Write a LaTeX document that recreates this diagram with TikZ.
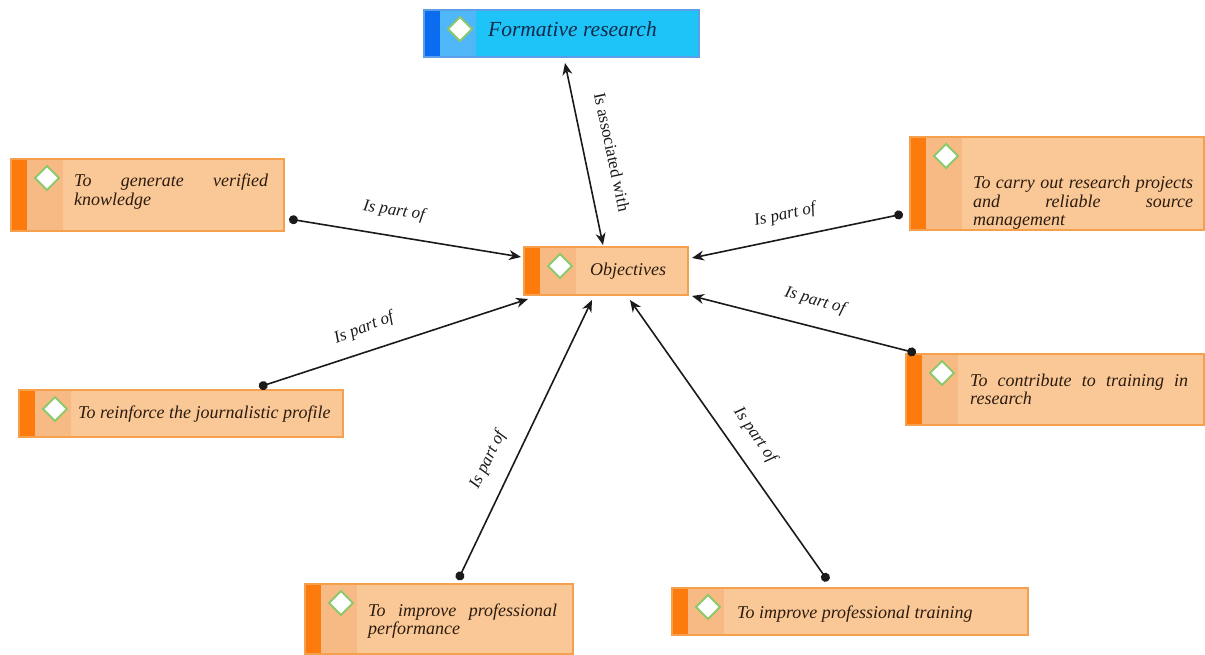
\documentclass[tikz,border=0pt]{standalone}
\usepackage{fontspec}
\setmainfont{Liberation Serif}
\usetikzlibrary{arrows.meta,calc}
\definecolor{oBorder}{HTML}{F5A04C}
\definecolor{oFill}{HTML}{FAC897}
\definecolor{oDark}{HTML}{FC7B0C}
\definecolor{oLight}{HTML}{F8BA84}
\definecolor{bBorder}{HTML}{5A9FE8}
\definecolor{bFill}{HTML}{1EC4F8}
\definecolor{bDark}{HTML}{0B6CF0}
\definecolor{bLight}{HTML}{4FB6F8}
\definecolor{dBorder}{HTML}{8DC86B}
\definecolor{tDark}{HTML}{2B1B0E}
\definecolor{tBlue}{HTML}{102A4A}
\definecolor{lineC}{HTML}{1A1A1A}
\tikzset{
  diam/.style={draw=dBorder, fill=white, line width=1.8pt, line join=miter},
  boxbase/.style n args={4}{draw=#1, fill=#2, line width=1.3pt, inner sep=0pt, outer sep=0pt, anchor=north west,
    path picture={
      \fill[#3] (path picture bounding box.north west) rectangle ([xshift=16pt]path picture bounding box.south west);
      \fill[#4] ([xshift=16pt]path picture bounding box.north west) rectangle ([xshift=52pt]path picture bounding box.south west);
      \draw[diam] ([xshift=36pt,yshift=-7pt]path picture bounding box.north west) -- ++(12pt,-12pt) -- ++(-12pt,-12pt) -- ++(-12pt,12pt) -- cycle;
    }},
  obox/.style={boxbase={oBorder}{oFill}{oDark}{oLight}},
  bbox/.style={boxbase={bBorder}{bFill}{bDark}{bLight}},
  btext/.style={anchor=base west, inner sep=0pt, font=\fontsize{18}{18.5}\selectfont\itshape, text=tDark},
  jtext/.style={btext, align=justify, text width=#1},
  lbl/.style={inner sep=0pt, font=\fontsize{17}{20}\selectfont\itshape, text=lineC},
  conn/.style={draw=lineC, line width=1.6pt, {Circle[length=9pt]}-{Stealth[length=12pt,width=10pt]}},
  dconn/.style={draw=lineC, line width=1.6pt, {Stealth[length=12pt,width=10pt]}-{Stealth[length=12pt,width=10pt]}}
}
\begin{document}
\begin{tikzpicture}[x=1pt,y=-1pt]
\useasboundingbox (0,0) rectangle (1205,655);
% boxes
\node[bbox, minimum width=275pt, minimum height=47pt] (form) at (424,10) {};
\node[btext, font=\fontsize{21.5}{24}\selectfont\itshape, text=tBlue] (formT) at (488,37) {Formative research};

\node[obox, minimum width=273pt, minimum height=72pt] (know) at (11,159) {};
\node[jtext=194pt] (knowT) at (74,187) {To generate verified\linebreak knowledge};

\node[obox, minimum width=164pt, minimum height=48pt] (obj) at (524,247) {};
\node[btext] (objT) at (590,276) {Objectives};

\node[obox, minimum width=294pt, minimum height=93pt] (carry) at (910,137) {};
\node[jtext=220pt] (carryT) at (973,189) {To carry out research projects\linebreak and reliable source\linebreak management};

\node[obox, minimum width=324pt, minimum height=47pt] (reinf) at (19,390) {};
\node[btext] (reinfT) at (78,418) {To reinforce the journalistic profile};

\node[obox, minimum width=298pt, minimum height=71pt] (contr) at (906,354) {};
\node[jtext=218pt] (contrT) at (970,386) {To contribute to training in\linebreak research};

\node[obox, minimum width=268pt, minimum height=70pt] (perf) at (305,584) {};
\node[jtext=189pt] (perfT) at (368,616) {To improve professional\linebreak performance};

\node[obox, minimum width=356pt, minimum height=47pt] (train) at (672,588) {};
\node[btext] (trainT) at (737,618) {To improve professional training};

% connector end points
\coordinate (f0) at ($(form.south west)+(141,6)$);
\coordinate (t0) at ($(obj.north west)+(79,-2)$);
\coordinate (s1) at ($(know.south east)+(5,-12)$);
\coordinate (t1) at ($(obj.north west)+(-3,10)$);
\coordinate (s2) at ($(carry.south west)+(-7,-16)$);
\coordinate (t2) at ($(obj.north east)+(4,11)$);
\coordinate (s3) at ($(reinf.north west)+(240,-3)$);
\coordinate (t3) at ($(obj.south west)+(4,4)$);
\coordinate (s4) at ($(contr.north west)+(10,-1)$);
\coordinate (t4) at ($(obj.south east)+(4,1)$);
\coordinate (s5) at ($(perf.north west)+(153,-4)$);
\coordinate (t5) at ($(obj.south west)+(68,5)$);
\coordinate (s6) at ($(train.north west)+(156,-7)$);
\coordinate (t6) at ($(obj.south west)+(106,5)$);

% connectors
\draw[dconn] (f0) -- (t0);
\draw[conn] (s1) -- (t1);
\draw[conn] (s2) -- (t2);
\draw[conn] (s3) -- (t3);
\draw[conn] (s4) -- (t4);
\draw[conn] (s5) -- (t5);
\draw[conn] (s6) -- (t6);

% labels
\node[lbl, font=\fontsize{17}{20}\selectfont, rotate=-78] (l0) at (612,152) {Is associated with};
\node[lbl, rotate=-9] (l1) at (394,211) {Is part of};
\node[lbl, rotate=12] (l2) at (785,215) {Is part of};
\node[lbl, rotate=21] (l3) at (364,328) {Is part of};
\node[lbl, rotate=-16] (l4) at (815,301) {Is part of};
\node[lbl, rotate=64] (l5) at (488,460) {Is part of};
\node[lbl, rotate=-55] (l6) at (755,435) {Is part of};
\end{tikzpicture}
\end{document}
